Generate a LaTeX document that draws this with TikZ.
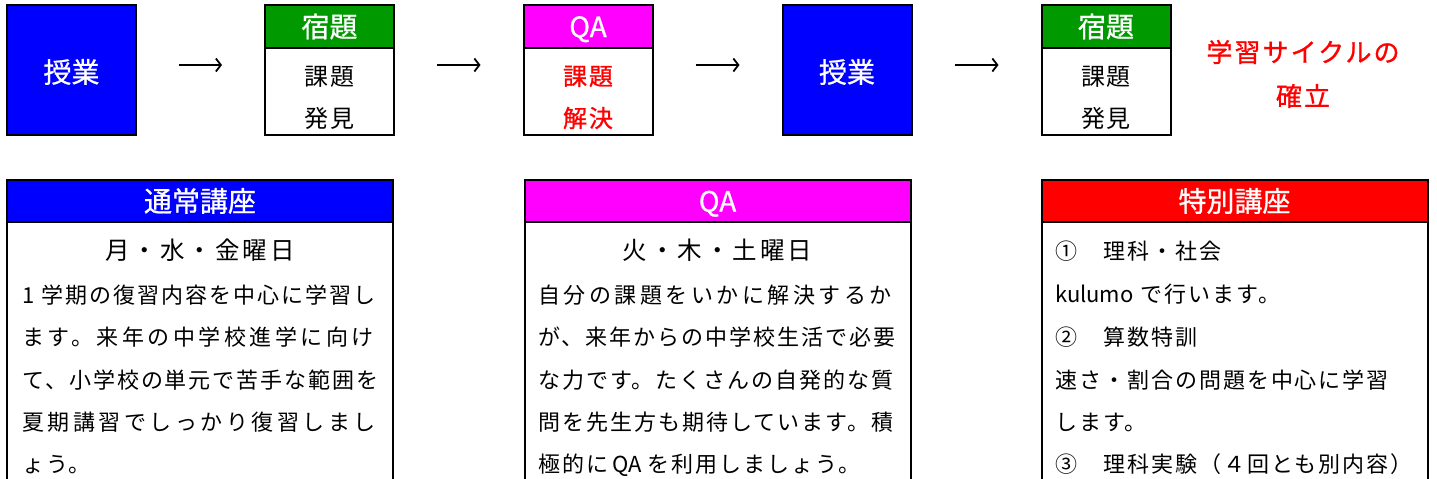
\documentclass[tikz,border=0pt]{standalone}
\usepackage{fontspec}
\setmainfont{Noto Sans CJK JP}
\newfontfamily\bodyfont[LetterSpace=9]{Noto Sans CJK JP}
\newfontfamily\widefont[LetterSpace=16]{Noto Sans CJK JP}
\newfontfamily\plainfont{Noto Sans CJK JP}
\newfontfamily\titlefont[LetterSpace=12]{Noto Sans CJK JP}
\newfontfamily\midfont[LetterSpace=8]{Noto Sans CJK JP}
\newfontfamily\redfont[LetterSpace=8,FakeBold=1]{Noto Sans CJK JP}
\newfontfamily\hdrfont[FakeBold=0.8]{Noto Sans CJK JP}
\usetikzlibrary{arrows.meta}
\definecolor{cblue}{RGB}{0,0,255}
\definecolor{cgreen}{RGB}{0,153,0}
\definecolor{cmag}{RGB}{255,0,255}
\definecolor{cred}{RGB}{255,0,0}
\begin{document}
\begin{tikzpicture}[x=1pt,y=-1pt,
  topbox/.style={draw, line width=2pt, minimum width=129pt, minimum height=130pt, inner sep=0pt},
  tophdr/.style={draw, line width=2pt, minimum width=129pt, minimum height=43pt, inner sep=0pt, anchor=north, text=white, font=\hdrfont\fontsize{28pt}{28pt}\selectfont, text height=24.6pt, text depth=3.4pt},
  bigtext/.style={text=white, font=\hdrfont\fontsize{28pt}{28pt}\selectfont, text height=24.6pt, text depth=3.4pt},
  topbody/.style={inner sep=0pt, font=\midfont\fontsize{24pt}{24pt}\selectfont, text height=21.1pt, text depth=2.9pt},
  redbody/.style={inner sep=0pt, text=cred, font=\redfont\fontsize{24pt}{24pt}\selectfont, text height=21.1pt, text depth=2.9pt},
  bigbox/.style={draw, line width=2pt, minimum width=386pt, minimum height=400pt, inner sep=0pt, anchor=north},
  bighdr/.style={draw, line width=2pt, minimum width=386pt, minimum height=42pt, inner sep=0pt, anchor=north, text=white, font=\hdrfont\fontsize{28pt}{28pt}\selectfont, text height=24.6pt, text depth=3.4pt},
  daytxt/.style={inner sep=0pt, font=\titlefont\fontsize{24.5pt}{24.5pt}\selectfont, text height=21.6pt, text depth=2.9pt},
  line/.style={inner sep=0pt, anchor=west, font=\bodyfont\fontsize{22pt}{22pt}\selectfont, text height=19.4pt, text depth=2.6pt},
  wline/.style={line, font=\widefont\fontsize{22pt}{22pt}\selectfont},
  redtxt/.style={inner sep=0pt, text=cred, font=\redfont\fontsize{26pt}{26pt}\selectfont, text height=22.9pt, text depth=3.1pt},
  arr/.style={line width=2.6pt, -{Straight Barb[length=5pt,width=13pt,line width=1.8pt]}, shorten <=42pt, shorten >=42pt}
]
\useasboundingbox (0,0) rectangle (1437,479);
\clip (0,0) rectangle (1437,479);

% top row
\node[topbox, fill=cblue] (b1) at (71.5,70) {};
\node[bigtext] (b1t) at (71.5,72) {授業};

\node[topbox, fill=white] (b2) at (329.5,70) {};
\node[tophdr, fill=cgreen] (h2) at (b2.north) {宿題};
\node[topbody] (b2a) at (329.5,76) {課題};
\node[topbody] (b2b) at (329.5,118) {発見};

\node[topbox, fill=white] (b3) at (588,70) {};
\node[tophdr, fill=cmag] (h3) at (b3.north) {QA};
\node[redbody] (b3a) at (588,76) {課題};
\node[redbody] (b3b) at (588,118) {解決};

\node[topbox, fill=cblue] (b4) at (847,70) {};
\node[bigtext] (b4t) at (847,72) {授業};

\node[topbox, fill=white] (b5) at (1106,70) {};
\node[tophdr, fill=cgreen] (h5) at (b5.north) {宿題};
\node[topbody] (b5a) at (1106,76) {課題};
\node[topbody] (b5b) at (1106,118) {発見};

\node[redtxt] (r1) at (1303,52) {学習サイクルの};
\node[redtxt] (r2) at (1303,96) {確立};

\draw[arr] ([yshift=5pt]b1.east) -- ([yshift=5pt]b2.west);
\draw[arr] ([yshift=5pt]b2.east) -- ([yshift=5pt]b3.west);
\draw[arr] ([yshift=5pt]b3.east) -- ([yshift=5pt]b4.west);
\draw[arr] ([yshift=5pt]b4.east) -- ([yshift=5pt]b5.west);

% bottom row
\node[bigbox] (A) at (200,179) {};
\node[bighdr, fill=cblue] (Ah) at (A.north) {通常講座};
\node[daytxt] (Ad) at (200,250) {月・水・金曜日};
\node[line] (A1) at (22,295) {1 学期の復習内容を中心に学習し};
\node[wline] (A2) at (22,337) {ます。来年の中学校進学に向け};
\node[line] (A3) at (22,380) {て、小学校の単元で苦手な範囲を};
\node[wline] (A4) at (22,422) {夏期講習でしっかり復習しまし};
\node[line] (A5) at (22,464) {ょう。};

\node[bigbox] (B) at (717.5,179) {};
\node[bighdr, fill=cmag] (Bh) at (B.north) {QA};
\node[daytxt] (Bd) at (717.5,250) {火・木・土曜日};
\node[wline] (B1) at (538,295) {自分の課題をいかに解決するか};
\node[line] (B2) at (538,337) {が、来年からの中学校生活で必要};
\node[line] (B3) at (538,380) {な力です。たくさんの自発的な質};
\node[line] (B4) at (538,422) {問を先生方も期待しています。積};
\node[line] (B5) at (538,464) {極的に\hspace{4pt}{\plainfont QA}\hspace{6pt}を利用しましょう。};

\node[bigbox] (C) at (1234.5,179) {};
\node[bighdr, fill=cred] (Ch) at (C.north) {特別講座};
\node[line] (C1) at (1055,251) {①　理科・社会};
\node[line] (C2) at (1055,294) {{\plainfont kulumo}\hspace{7pt}で行います。};
\node[line] (C3) at (1055,337) {②　算数特訓};
\node[line] (C4) at (1055,380) {速さ・割合の問題を中心に学習};
\node[line] (C5) at (1055,422) {します。};
\node[line] (C6) at (1055,464) {③　理科実験（４回とも別内容）};
\end{tikzpicture}
\end{document}
